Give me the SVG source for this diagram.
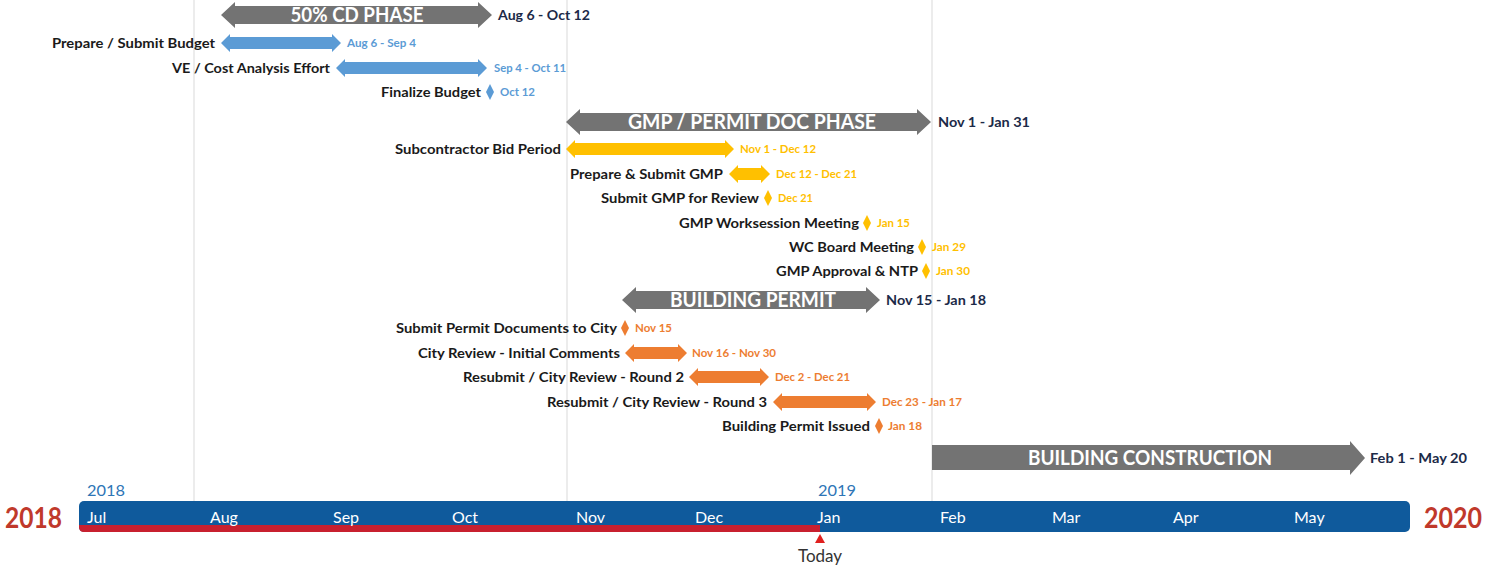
<svg xmlns="http://www.w3.org/2000/svg" width="1487" height="570" viewBox="0 0 1487 570">
<style>
text{font-family:Lato,"Open Sans","Liberation Sans",sans-serif}
.lbl{font-size:14px;font-weight:bold;fill:#1a1a1a;text-anchor:end}
.ph{font-size:21px;font-weight:bold;fill:#ffffff;text-anchor:middle}
.pd{font-size:14px;font-weight:bold;fill:#1c2a48}
.sd{font-size:11px;font-weight:bold}
.gray{fill:#737373}
.blue{fill:#5b9bd5}
.yel{fill:#ffc000}
.org{fill:#ed7d31}
.mon{font-size:16px;fill:#ffffff}
.yr{font-size:16px;fill:#2e75b6}
.big{font-size:28px;font-weight:bold;fill:#c0392b}
.grid{stroke:#d9d9d9;stroke-width:1}
</style>
<g id="gridlines">
<line class="grid" x1="194" y1="0" x2="194" y2="501"/>
<line class="grid" x1="567" y1="0" x2="567" y2="501"/>
<line class="grid" x1="932" y1="0" x2="932" y2="501"/>
</g>
<g id="timeline">
<rect x="79" y="501" width="1331" height="31" rx="5" fill="#0f5a9c"/>
<path d="M79,525 L820,525 L820,532 L84,532 Q79,532 79,527 Z" fill="#c8202f"/>
<path d="M820,534 L825,543 L815,543 Z" fill="#e0201f"/>
<text x="820" y="562" font-size="17" fill="#333333" text-anchor="middle">Today</text>
<text class="mon" x="87" y="523">Jul</text>
<text class="mon" x="210" y="523">Aug</text>
<text class="mon" x="333" y="523">Sep</text>
<text class="mon" x="452" y="523">Oct</text>
<text class="mon" x="576" y="523">Nov</text>
<text class="mon" x="695" y="523">Dec</text>
<text class="mon" x="817" y="523">Jan</text>
<text class="mon" x="940" y="523">Feb</text>
<text class="mon" x="1052" y="523">Mar</text>
<text class="mon" x="1173" y="523">Apr</text>
<text class="mon" x="1294" y="523">May</text>
<text class="yr" x="87" y="496" textLength="38" lengthAdjust="spacingAndGlyphs">2018</text>
<text class="yr" x="818" y="496" textLength="38" lengthAdjust="spacingAndGlyphs">2019</text>
<text class="big" x="5" y="528" textLength="57" lengthAdjust="spacingAndGlyphs">2018</text>
<text class="big" x="1424" y="528" textLength="58" lengthAdjust="spacingAndGlyphs">2020</text>
</g>
<g id="connectors"></g>
<g id="cd-phase">
<path class="gray" d="M221,15 L235,2 L235,6 L478,6 L478,2 L492,15 L478,28 L478,24 L235,24 L235,28 Z"/>
<text class="ph" x="357" y="22" textLength="133" lengthAdjust="spacingAndGlyphs">50% CD PHASE</text>
<text class="pd" x="498" y="20" textLength="92" lengthAdjust="spacingAndGlyphs">Aug 6 - Oct 12</text>
</g>
<g id="prepare-budget">
<text class="lbl" x="215" y="48" textLength="163" lengthAdjust="spacingAndGlyphs">Prepare / Submit Budget</text>
<path class="blue" d="M221,43 L230,34 L230,37 L332,37 L332,34 L341,43 L332,52 L332,49 L230,49 L230,52 Z"/>
<text class="sd blue" x="347" y="47" textLength="69" lengthAdjust="spacingAndGlyphs">Aug 6 - Sep 4</text>
</g>
<g id="ve-cost">
<text class="lbl" x="330" y="73" textLength="158" lengthAdjust="spacingAndGlyphs">VE / Cost Analysis Effort</text>
<path class="blue" d="M336,68 L345,59 L345,62 L478,62 L478,59 L487,68 L478,77 L478,74 L345,74 L345,77 Z"/>
<text class="sd blue" x="494" y="72" textLength="72" lengthAdjust="spacingAndGlyphs">Sep 4 - Oct 11</text>
</g>
<g id="finalize-budget">
<text class="lbl" x="481" y="97" textLength="100" lengthAdjust="spacingAndGlyphs">Finalize Budget</text>
<path class="blue" d="M490,84 L494,92 L490,100 L486,92 Z"/>
<text class="sd blue" x="500" y="96" textLength="35" lengthAdjust="spacingAndGlyphs">Oct 12</text>
</g>
<g id="gmp-phase">
<path class="gray" d="M566,122 L580,109 L580,113 L917,113 L917,109 L931,122 L917,135 L917,131 L580,131 L580,135 Z"/>
<text class="ph" x="752" y="129" textLength="248" lengthAdjust="spacingAndGlyphs">GMP / PERMIT DOC PHASE</text>
<text class="pd" x="938" y="127" textLength="92" lengthAdjust="spacingAndGlyphs">Nov 1 - Jan 31</text>
</g>
<g id="sub-bid">
<text class="lbl" x="561" y="154" textLength="166" lengthAdjust="spacingAndGlyphs">Subcontractor Bid Period</text>
<path class="yel" d="M566,149 L575,140 L575,143 L725,143 L725,140 L734,149 L725,158 L725,155 L575,155 L575,158 Z"/>
<text class="sd yel" x="740" y="153" textLength="76" lengthAdjust="spacingAndGlyphs">Nov 1 - Dec 12</text>
</g>
<g id="prepare-gmp">
<text class="lbl" x="723" y="179" textLength="153" lengthAdjust="spacingAndGlyphs">Prepare &amp; Submit GMP</text>
<path class="yel" d="M729,174 L738,165 L738,168 L761,168 L761,165 L770,174 L761,183 L761,180 L738,180 L738,183 Z"/>
<text class="sd yel" x="776" y="178" textLength="81" lengthAdjust="spacingAndGlyphs">Dec 12 - Dec 21</text>
</g>
<g id="submit-gmp">
<text class="lbl" x="759" y="203" textLength="158" lengthAdjust="spacingAndGlyphs">Submit GMP for Review</text>
<path class="yel" d="M768,190 L772,198 L768,206 L764,198 Z"/>
<text class="sd yel" x="778" y="202" textLength="35" lengthAdjust="spacingAndGlyphs">Dec 21</text>
</g>
<g id="gmp-worksession">
<text class="lbl" x="859" y="228" textLength="180" lengthAdjust="spacingAndGlyphs">GMP Worksession Meeting</text>
<path class="yel" d="M867,215 L871,223 L867,231 L863,223 Z"/>
<text class="sd yel" x="877" y="227" textLength="33" lengthAdjust="spacingAndGlyphs">Jan 15</text>
</g>
<g id="wc-board">
<text class="lbl" x="914" y="252" textLength="125" lengthAdjust="spacingAndGlyphs">WC Board Meeting</text>
<path class="yel" d="M922,239 L926,247 L922,255 L918,247 Z"/>
<text class="sd yel" x="932" y="251" textLength="34" lengthAdjust="spacingAndGlyphs">Jan 29</text>
</g>
<g id="gmp-approval">
<text class="lbl" x="918" y="276" textLength="142" lengthAdjust="spacingAndGlyphs">GMP Approval &amp; NTP</text>
<path class="yel" d="M926,263 L930,271 L926,279 L922,271 Z"/>
<text class="sd yel" x="936" y="275" textLength="34" lengthAdjust="spacingAndGlyphs">Jan 30</text>
</g>
<g id="building-permit">
<path class="gray" d="M622,300 L636,287 L636,291 L866,291 L866,287 L880,300 L866,313 L866,309 L636,309 L636,313 Z"/>
<text class="ph" x="753" y="307" textLength="166" lengthAdjust="spacingAndGlyphs">BUILDING PERMIT</text>
<text class="pd" x="886" y="305" textLength="100" lengthAdjust="spacingAndGlyphs">Nov 15 - Jan 18</text>
</g>
<g id="submit-permit">
<text class="lbl" x="617" y="333" textLength="221" lengthAdjust="spacingAndGlyphs">Submit Permit Documents to City</text>
<path class="org" d="M625,320 L629,328 L625,336 L621,328 Z"/>
<text class="sd org" x="635" y="332" textLength="37" lengthAdjust="spacingAndGlyphs">Nov 15</text>
</g>
<g id="city-review">
<text class="lbl" x="620" y="358" textLength="202" lengthAdjust="spacingAndGlyphs">City Review - Initial Comments</text>
<path class="org" d="M625,353 L634,344 L634,347 L678,347 L678,344 L687,353 L678,362 L678,359 L634,359 L634,362 Z"/>
<text class="sd org" x="692" y="357" textLength="84" lengthAdjust="spacingAndGlyphs">Nov 16 - Nov 30</text>
</g>
<g id="round-2">
<text class="lbl" x="684" y="382" textLength="221" lengthAdjust="spacingAndGlyphs">Resubmit / City Review - Round 2</text>
<path class="org" d="M689,377 L698,368 L698,371 L760,371 L760,368 L769,377 L760,386 L760,383 L698,383 L698,386 Z"/>
<text class="sd org" x="775" y="381" textLength="75" lengthAdjust="spacingAndGlyphs">Dec 2 - Dec 21</text>
</g>
<g id="round-3">
<text class="lbl" x="767" y="407" textLength="220" lengthAdjust="spacingAndGlyphs">Resubmit / City Review - Round 3</text>
<path class="org" d="M773,402 L782,393 L782,396 L867,396 L867,393 L876,402 L867,411 L867,408 L782,408 L782,411 Z"/>
<text class="sd org" x="882" y="406" textLength="80" lengthAdjust="spacingAndGlyphs">Dec 23 - Jan 17</text>
</g>
<g id="permit-issued">
<text class="lbl" x="870" y="431" textLength="148" lengthAdjust="spacingAndGlyphs">Building Permit Issued</text>
<path class="org" d="M879,418 L883,426 L879,434 L875,426 Z"/>
<text class="sd org" x="888" y="430" textLength="34" lengthAdjust="spacingAndGlyphs">Jan 18</text>
</g>
<g id="construction">
<path class="gray" d="M932,445 L1350,445 L1350,441 L1365,458 L1350,475 L1350,470 L932,470 Z"/>
<text class="ph" x="1150" y="465" textLength="244" lengthAdjust="spacingAndGlyphs">BUILDING CONSTRUCTION</text>
<text class="pd" x="1370" y="463" textLength="97" lengthAdjust="spacingAndGlyphs">Feb 1 - May 20</text>
</g>
</svg>
